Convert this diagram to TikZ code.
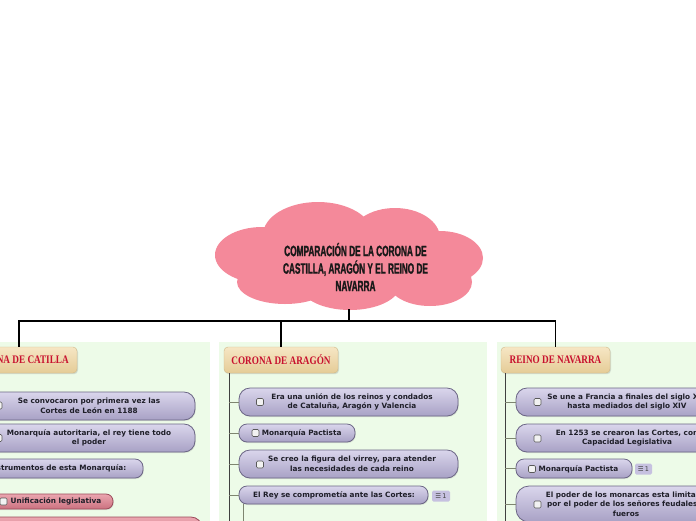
\documentclass[tikz,border=0pt]{standalone}
\usepackage{fontspec}
\setmainfont{DejaVu Sans}
\newfontfamily\titlefont[FakeStretch=0.55, FakeBold=1.2]{Liberation Sans}
\newfontfamily\headfont[FakeStretch=0.8]{Liberation Serif}
\newfontfamily\iconfont{DejaVu Sans}
\usetikzlibrary{shadows, positioning, calc}

\definecolor{panelgreen}{HTML}{EDFBE8}
\definecolor{cloudpink}{HTML}{F4899A}
\definecolor{headred}{HTML}{C8102E}
\definecolor{headtop}{HTML}{F6E6C4}
\definecolor{headbot}{HTML}{E5CC97}
\definecolor{headline}{HTML}{CFB888}
\definecolor{topictop}{HTML}{DAD6EC}
\definecolor{topicbot}{HTML}{A8A1C5}
\definecolor{topicline}{HTML}{6B6585}
\definecolor{pinktop}{HTML}{EBA6B0}
\definecolor{pinkbot}{HTML}{CB717F}
\definecolor{pinkline}{HTML}{9B4A5A}
\definecolor{topictext}{HTML}{1E1E28}
\definecolor{badgefill}{HTML}{C6C1E0}
\definecolor{branchgray}{HTML}{7E8570}

\begin{document}
\begin{tikzpicture}[x=1pt, y=1pt,
  header/.style={draw=headline, top color=headtop, bottom color=headbot, rounded corners=4pt,
    minimum height=26pt, inner sep=0pt, text=headred,
    font=\headfont\bfseries\fontsize{11.5}{12}\selectfont,
    drop shadow={shadow xshift=1pt, shadow yshift=-1.2pt, opacity=0.25}},
  topic/.style={draw=topicline, line width=0.8pt, top color=topictop, bottom color=topicbot,
    inner sep=0pt, drop shadow={shadow xshift=0.8pt, shadow yshift=-1pt, opacity=0.2}},
  pinktopic/.style={topic, draw=pinkline, top color=pinktop, bottom color=pinkbot},
  ttext/.style={font=\bfseries\fontsize{7.3}{9.5}\selectfont, text=topictext, align=center, inner sep=0pt},
  chk/.style={draw=black!65, fill=black!5, rounded corners=1.2pt, minimum size=7pt, inner sep=0pt, line width=0.6pt},
  badge/.style={fill=badgefill, rounded corners=1.5pt, minimum width=18pt, minimum height=11pt,
    inner sep=0pt, text=black!75, font=\iconfont\fontsize{6.5}{6.5}\selectfont},
  conn/.style={draw=black, line width=1.3pt},
  trunk/.style={draw=black!75, line width=1pt},
  branch/.style={draw=branchgray, line width=0.8pt}]
\useasboundingbox (0,0) rectangle (696,-520);
\clip (0,0) rectangle (696,-520);

% panels
\fill[panelgreen] (-20,-342) rectangle (210,-540);
\fill[panelgreen] (219,-342) rectangle (487,-540);
\fill[panelgreen] (497,-342) rectangle (760,-540);

% cloud
\fill[cloudpink] (318,-235) ellipse [x radius=55pt, y radius=33pt]
  (395,-238) ellipse [x radius=45pt, y radius=30pt]
  (262,-255) ellipse [x radius=47pt, y radius=28pt]
  (440,-258) ellipse [x radius=43pt, y radius=27pt]
  (285,-282) ellipse [x radius=48pt, y radius=22pt]
  (350,-285) ellipse [x radius=50pt, y radius=25pt]
  (430,-282) ellipse [x radius=42pt, y radius=24pt]
  (350,-260) ellipse [x radius=90pt, y radius=35pt];
\node[font=\titlefont\bfseries\fontsize{15}{17.5}\selectfont, text=black!90, align=center, inner sep=0pt]
  (title) at (355.5,-267) {COMPARACIÓN DE LA CORONA DE\\CASTILLA, ARAGÓN Y EL REINO DE\\NAVARRA};
\coordinate (cloudbot) at (349,-309);
\coordinate (bus) at (349,-321);

% headers
\node[header, minimum width=116pt] (hdA) at (19,-360) {CORONA DE CATILLA};
\node[header, minimum width=114pt] (hdB) at (281,-360) {CORONA DE ARAGÓN};
\node[header, minimum width=109pt] (hdC) at (555.5,-360) {REINO DE NAVARRA};

\draw[conn] (cloudbot) -- (bus);
\draw[conn] (hdA.north) |- (bus);
\draw[conn] (hdB.north) |- (bus);
\draw[conn] (hdC.north) |- (bus);

% trunks
\coordinate (endA) at (-35,-540);
\coordinate (endB) at (229,-540);
\coordinate (endC) at (505,-540);
\coordinate (subA) at (-24,-540);
\coordinate (subB) at (243,-540);

% castilla
\node[topic, rounded corners=11pt, minimum width=216pt, minimum height=28pt] (tA1) at (87,-406) {};
\node[topic, rounded corners=11pt, minimum width=216pt, minimum height=28pt] (tA2) at (87,-438) {};
\node[topic, rounded corners=8pt, minimum width=171pt, minimum height=19pt] (tA3) at (57.5,-468.5) {};
\node[pinktopic, rounded corners=7pt, minimum width=125pt, minimum height=15pt] (tA4) at (50.5,-501.5) {};
\node[pinktopic, rounded corners=11pt, minimum width=214pt, minimum height=28pt] (tA5) at (95,-531) {};
\node[chk] (cA1) at (-1.5,-405.5) {};
\node[chk] (cA2) at (-1.5,-438) {};
\node[chk] (cA4) at (3.5,-501.5) {};
\node[ttext] (xA1) at (89,-406) {Se convocaron por primera vez las\\Cortes de León en 1188};
\node[ttext] (xA2) at (89,-438) {Monarquía autoritaria, el rey tiene todo\\el poder};
\node[ttext] (xA3) at (57.5,-468.5) {Instrumentos de esta Monarquía:};
\node[ttext] (xA4) at (56,-501.5) {Unificación legislativa};
\draw[trunk] (hdA.south -| endA) -- (endA);
\draw[branch] (tA1.west -| endA) -- (tA1.west);
\draw[branch] (tA2.west -| endA) -- (tA2.west);
\draw[branch] (tA3.west -| endA) -- (tA3.west);
\draw[branch] (tA3.south -| subA) -- (subA);
\draw[branch] (tA4.west -| subA) -- (tA4.west);
\draw[branch] (tA5.west -| subA) -- (tA5.west);

% aragon
\node[topic, rounded corners=11pt, minimum width=219pt, minimum height=28pt] (tB1) at (348.5,-402) {};
\node[topic, rounded corners=8pt, minimum width=116pt, minimum height=18pt] (tB2) at (297,-433) {};
\node[topic, rounded corners=11pt, minimum width=219pt, minimum height=28pt] (tB3) at (348.5,-464) {};
\node[topic, rounded corners=8pt, minimum width=189pt, minimum height=18pt] (tB4) at (333.5,-495) {};
\node[chk] (cB1) at (260,-402) {};
\node[chk] (cB2) at (255.5,-433) {};
\node[chk] (cB3) at (260,-464.5) {};
\node[ttext] (xB1) at (352,-402) {Era una unión de los reinos y condados\\de Cataluña, Aragón y Valencia};
\node[ttext] (xB2) at (301.7,-433) {Monarquía Pactista};
\node[ttext] (xB3) at (352,-464) {Se creo la figura del virrey, para atender\\las necesidades de cada reino};
\node[ttext] (xB4) at (334,-495) {El Rey se comprometía ante las Cortes:};
\node[badge] (bB4) at (441,-496) {☰\,1};
\draw[trunk] (hdB.south -| endB) -- (endB);
\draw[branch] (tB1.west -| endB) -- (tB1.west);
\draw[branch] (tB2.west -| endB) -- (tB2.west);
\draw[branch] (tB3.west -| endB) -- (tB3.west);
\draw[branch] (tB4.west -| endB) -- (tB4.west);
\draw[branch] (tB4.south -| subB) -- (subB);

% navarra
\node[topic, rounded corners=11pt, minimum width=234pt, minimum height=28pt] (tC1) at (633,-402) {};
\node[topic, rounded corners=11pt, minimum width=234pt, minimum height=28pt] (tC2) at (633,-438) {};
\node[topic, rounded corners=8pt, minimum width=116pt, minimum height=19pt] (tC3) at (574,-468.5) {};
\node[topic, rounded corners=13pt, minimum width=234pt, minimum height=36pt] (tC4) at (633,-504) {};
\node[chk] (cC1) at (537.5,-402) {};
\node[chk] (cC2) at (537.5,-438.5) {};
\node[chk] (cC3) at (532,-469) {};
\node[chk] (cC4) at (537.5,-504.5) {};
\node[ttext] (xC1) at (627,-402) {Se une a Francia a finales del siglo XIII\\hasta mediados del siglo XIV};
\node[ttext] (xC2) at (627,-438) {En 1253 se crearon las Cortes, con\\Capacidad Legislativa};
\node[ttext] (xC3) at (578.5,-469) {Monarquía Pactista};
\node[ttext] (xC4) at (626,-504) {El poder de los monarcas esta limitado\\por el poder de los señores feudales y\\fueros};
\node[badge, minimum width=17pt] (bC3) at (643.5,-469) {☰\,1};
\draw[trunk] (hdC.south -| endC) -- (endC);
\draw[branch] (tC1.west -| endC) -- (tC1.west);
\draw[branch] (tC2.west -| endC) -- (tC2.west);
\draw[branch] (tC3.west -| endC) -- (tC3.west);
\draw[branch] (tC4.west -| endC) -- (tC4.west);
\end{tikzpicture}
\end{document}
